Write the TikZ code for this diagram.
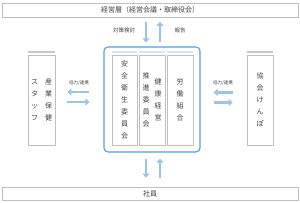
\documentclass[tikz,border=0pt]{standalone}
\usepackage{fontspec}
\setmainfont{Noto Sans CJK JP}
\usetikzlibrary{arrows.meta}
\definecolor{grpblue}{RGB}{91,155,213}
\definecolor{arrblue}{RGB}{157,195,230}
\definecolor{barblue}{RGB}{214,230,246}
\definecolor{boxgray}{RGB}{191,191,191}
\definecolor{bargray}{RGB}{200,200,200}
\definecolor{txtgray}{RGB}{64,64,64}
\newcommand{\tate}[1]{\begin{tabular}[c]{@{}c@{}}#1\end{tabular}}

\begin{document}
\begin{tikzpicture}[x=1pt, y=-1pt,
  widebox/.style={draw=boxgray, line width=0.6pt, minimum width=296pt, minimum height=14pt, inner sep=0pt, text=txtgray, font=\fontsize{7}{8}\selectfont},
  colbox/.style={draw=boxgray, line width=0.6pt, minimum width=26pt, minimum height=90pt, inner sep=0pt, text=txtgray, font=\fontsize{7}{12}\selectfont},
  arr/.style={draw=arrblue, line width=2.4pt, -{Triangle[length=4pt,width=7pt]}},
  lbl/.style={text=txtgray, inner sep=0pt}]
\useasboundingbox (0,0) rectangle (300,203);

\node[widebox] (mgmt) at (150,10) {経営層（経営会議・取締役会）};
\node[widebox, minimum height=13pt] (emp) at (150,193.5) {社員};

\node[draw=grpblue, line width=1.1pt, rounded corners=4pt, minimum width=96pt, minimum height=105pt] (grp) at (152,99.5) {};
\node[colbox, minimum width=25pt] (anzen) at (124.5,100) {\tate{安\\全\\衛\\生\\委\\員\\会}};
\node[colbox] (kenko) at (152,100) {\tate{推\\進\\委\\員\\会}\hspace{5pt}\tate{健\\康\\経\\営}};
\node[colbox] (roso) at (180,100) {\tate{労\\働\\組\\合}};
\foreach \c in {anzen,kenko,roso}
  \draw[barblue, line width=1.8pt] ([yshift=2.4pt]\c.north west) -- ([yshift=2.4pt]\c.north east);

\node[colbox, minimum width=27pt] (sangyo) at (41.5,100) {\tate{ス\\タ\\ッ\\フ}\hspace{7pt}\tate{産\\業\\保\\健}};
\node[colbox] (kyokai) at (260,100) {\tate{協\\会\\け\\ん\\ぽ}};
\foreach \c in {sangyo,kyokai}
  \draw[bargray, line width=1.8pt] ([yshift=2.4pt]\c.north west) -- ([yshift=2.4pt]\c.north east);

\draw[arr, shorten <=4.5pt, shorten >=4pt] ([xshift=-6pt]grp.north |- mgmt.south) -- ([xshift=-6pt]grp.north);
\draw[arr, shorten <=4pt, shorten >=4.5pt] ([xshift=8pt]grp.north) -- ([xshift=8pt]grp.north |- mgmt.south);
\node[lbl, font=\fontsize{5.5}{6}\selectfont] (taisaku) at (124,30) {対策検討};
\node[lbl, font=\fontsize{5.5}{6}\selectfont] (hokoku) at (180,30) {報告};

\draw[arr, shorten <=6pt, shorten >=9pt] ([xshift=-6pt]grp.south) -- ([xshift=-6pt]grp.south |- emp.north);
\draw[arr, shorten <=9pt, shorten >=6pt] ([xshift=8pt]grp.south |- emp.north) -- ([xshift=8pt]grp.south);

\draw[arr, shorten <=14pt, shorten >=12pt] ([yshift=7.5pt]grp.west) -- ([yshift=7.5pt]grp.west -| sangyo.east);
\draw[arr, shorten <=12pt, shorten >=14pt] ([yshift=-2.5pt]grp.west -| sangyo.east) -- ([yshift=-2.5pt]grp.west);
\node[lbl, font=\fontsize{4.5}{5}\selectfont] (renkei1) at (79,83) {協力/連携};

\draw[arr, shorten <=14pt, shorten >=13pt] ([yshift=7.5pt]kyokai.west) -- ([yshift=7.5pt]kyokai.west -| grp.east);
\draw[arr, shorten <=13pt, shorten >=14pt] ([yshift=-2.5pt]kyokai.west -| grp.east) -- ([yshift=-2.5pt]kyokai.west);
\node[lbl, font=\fontsize{4.5}{5}\selectfont] (renkei2) at (223,83) {協力/連携};
\end{tikzpicture}
\end{document}
